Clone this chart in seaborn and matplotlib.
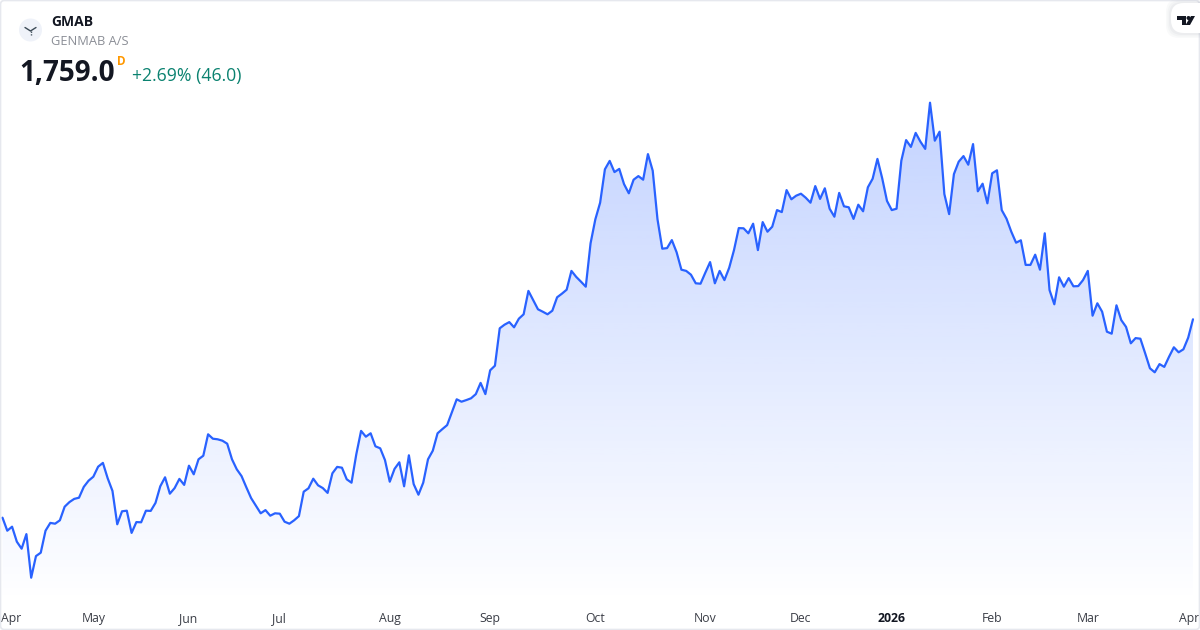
import numpy as np
import matplotlib
matplotlib.use("Agg")
import matplotlib.pyplot as plt
import seaborn as sns
from matplotlib.patches import Circle, FancyBboxPatch, Polygon

prices = [
    1263, 1230.5, 1240.5, 1203, 1185.5, 1222, 1113, 1167, 1175.5, 1230.5,
    1250, 1248, 1256.5, 1290.5, 1302, 1310, 1313, 1340, 1355.5, 1365.5,
    1390.5, 1400, 1361.5, 1330, 1246.5, 1279, 1280.5, 1225, 1252, 1251.5,
    1280.5, 1280, 1300, 1341.5, 1364, 1323, 1337, 1360, 1345, 1393,
    1371.5, 1409, 1418, 1471.5, 1460.5, 1459, 1455.5, 1448, 1409, 1384,
    1367, 1339, 1312, 1293, 1274, 1282, 1268, 1274, 1273, 1253,
    1248, 1256.5, 1267, 1328, 1336.5, 1360.5, 1344, 1337, 1325, 1374,
    1390, 1388, 1359, 1350.5, 1421.5, 1480, 1465.5, 1474, 1441.5, 1436.5,
    1407, 1353, 1385, 1401.5, 1341.5, 1419, 1347, 1320.5, 1350.5, 1409,
    1430.5, 1474, 1484.5, 1494.5, 1526.5, 1559, 1553, 1557, 1561.5, 1572,
    1600, 1572, 1631.5, 1643, 1736.5, 1745.5, 1752, 1739, 1760.5, 1771.5,
    1830, 1807, 1784, 1778, 1771.5, 1780.5, 1814, 1823, 1833, 1880,
    1865, 1853, 1840.5, 1949, 2009, 2050.5, 2134, 2155, 2127, 2135,
    2097, 2074, 2108, 2117, 2108, 2172, 2130.5, 2009, 1935.5, 1937,
    1957, 1926.5, 1883, 1880, 1870.5, 1849, 1848, 1875.5, 1902, 1849,
    1880, 1857, 1888, 1932, 1987, 1986.5, 1974, 1998, 1932, 2002,
    1978, 1990.5, 2032, 2027, 2082, 2059, 2068, 2073, 2063, 2050.5,
    2092, 2060, 2086.5, 2035.5, 2015.5, 2075, 2041.5, 2039, 2010, 2045.5,
    2029, 2089, 2110.5, 2160, 2111.5, 2055, 2032, 2035.5, 2155.5, 2207,
    2190, 2225, 2203, 2185, 2300.5, 2205.5, 2228, 2072, 2022, 2122,
    2153, 2167, 2145.5, 2197, 2079, 2098, 2049, 2124, 2131.5, 2032,
    2010.5, 1978, 1950.5, 1956.5, 1895, 1895, 1920.5, 1883, 1974, 1832,
    1796.5, 1864, 1840.5, 1862, 1841.5, 1842, 1857, 1880, 1768, 1799,
    1778, 1728, 1723, 1794, 1757, 1740, 1699, 1712, 1710.5, 1674,
    1636.5, 1626.5, 1647, 1640, 1665.5, 1689, 1676.5, 1684, 1713, 1759,
]
month_labels = ["Apr", "May", "Jun", "Jul", "Aug", "Sep", "Oct", "Nov", "Dec", "2026", "Feb", "Mar", "Apr"]
month_ticks = [1.8, 19, 38.8, 57.8, 81, 102, 124, 147, 167, 186, 207, 227, 248.2]

sns.set_theme(style="white")
plt.rcParams["font.family"] = ["Open Sans", "DejaVu Sans"]

W, H = 1200, 630
fig = plt.figure(figsize=(12, 6.3), dpi=100)
ax = fig.add_axes([0, 27 / H, 1, 603 / H])

days = np.arange(len(prices))
sns.lineplot(x=days, y=prices, color="#2962FF", linewidth=1.6, ax=ax, zorder=3)

x_left, x_right = -0.523, 250.47
y_bottom, y_top = 1049.75, 2557.25

# gradient under the line, clipped to the area shape
fill = ax.fill_between(days, prices, y_bottom, color="none", lw=0)
grad = np.zeros((256, 1, 4))
grad[..., :3] = matplotlib.colors.to_rgb("#2962FF")
grad[:, 0, 3] = np.linspace(0.28, 0.0, 256)
img = ax.imshow(grad, extent=[x_left, x_right, y_bottom, max(prices)], aspect="auto",
                origin="upper", zorder=2)
img.set_clip_path(fill.get_paths()[0], transform=ax.transData)
ax.set_xlim(x_left, x_right)
ax.set_ylim(y_bottom, y_top)

ax.set_xlabel("")
ax.set_ylabel("")
ax.set_yticks([])
ax.set_xticks(month_ticks)
ax.set_xticklabels(month_labels, fontsize=8.8, color="#3a3d46", va="baseline")
ax.tick_params(axis="x", length=0, pad=13.5)
ax.get_xticklabels()[9].set_fontweight("bold")
ax.get_xticklabels()[9].set_color("#131722")
sns.despine(ax=ax, left=True, bottom=True)

# overlay in pixel coords for header, logo and border
ov = fig.add_axes([0, 0, 1, 1], facecolor="none")
ov.set_xlim(0, W)
ov.set_ylim(H, 0)
ov.axis("off")
ov.add_patch(FancyBboxPatch((0.5, 0.5), W - 1, H - 1, boxstyle="round,pad=0,rounding_size=4",
                            fc="none", ec="#E6E8EE", lw=1.2, clip_on=False))

ov.add_patch(Circle((30.5, 30), 11.5, fc="#EFF2F9", ec="none"))
ov.plot([25, 30.5, 36], [27.5, 31, 27.5], color="#3b4a56", lw=1)
ov.plot([30.5, 30.5], [31, 35], color="#3b4a56", lw=1, ls=(0, (1, 1)))

ov.text(51, 25.5, "GMAB", fontsize=10, fontweight="bold", color="#131722")
ov.text(51, 45, "GENMAB A/S", fontsize=9.3, color="#8b8e96")
ov.text(19, 81, "1,759.0", fontsize=20.1, fontweight="bold", color="#131722")
ov.text(117, 65, "D", fontsize=8.5, fontweight="bold", color="#FF9800")
ov.text(132, 80.5, "+2.69% (46.0)", fontsize=12.7, color="#0B8270")

# TradingView badge in the corner, soft shadow first
for grow, alpha in [(5, 0.05), (3.5, 0.06), (2, 0.08)]:
    ov.add_patch(FancyBboxPatch((1171 - grow, 4 - grow), 44 + 2 * grow, 29 + 2 * grow,
                                boxstyle="round,pad=0,rounding_size=13", fc="#9aa0ad", ec="none",
                                alpha=alpha))
ov.add_patch(FancyBboxPatch((1171, 3), 44, 30, boxstyle="round,pad=0,rounding_size=13",
                            fc="white", ec="none"))
ov.add_patch(Polygon([(1177, 16), (1186, 16), (1186, 25), (1181.5, 25), (1181.5, 20), (1177, 20)],
                     fc="#131722", ec="none"))
ov.add_patch(Circle((1188.5, 18), 2, fc="#131722", ec="none"))
ov.add_patch(Polygon([(1191, 16), (1195, 16), (1190, 25), (1185.5, 25)], fc="#131722", ec="none"))

fig.savefig("out.png", dpi=100, facecolor="white")
